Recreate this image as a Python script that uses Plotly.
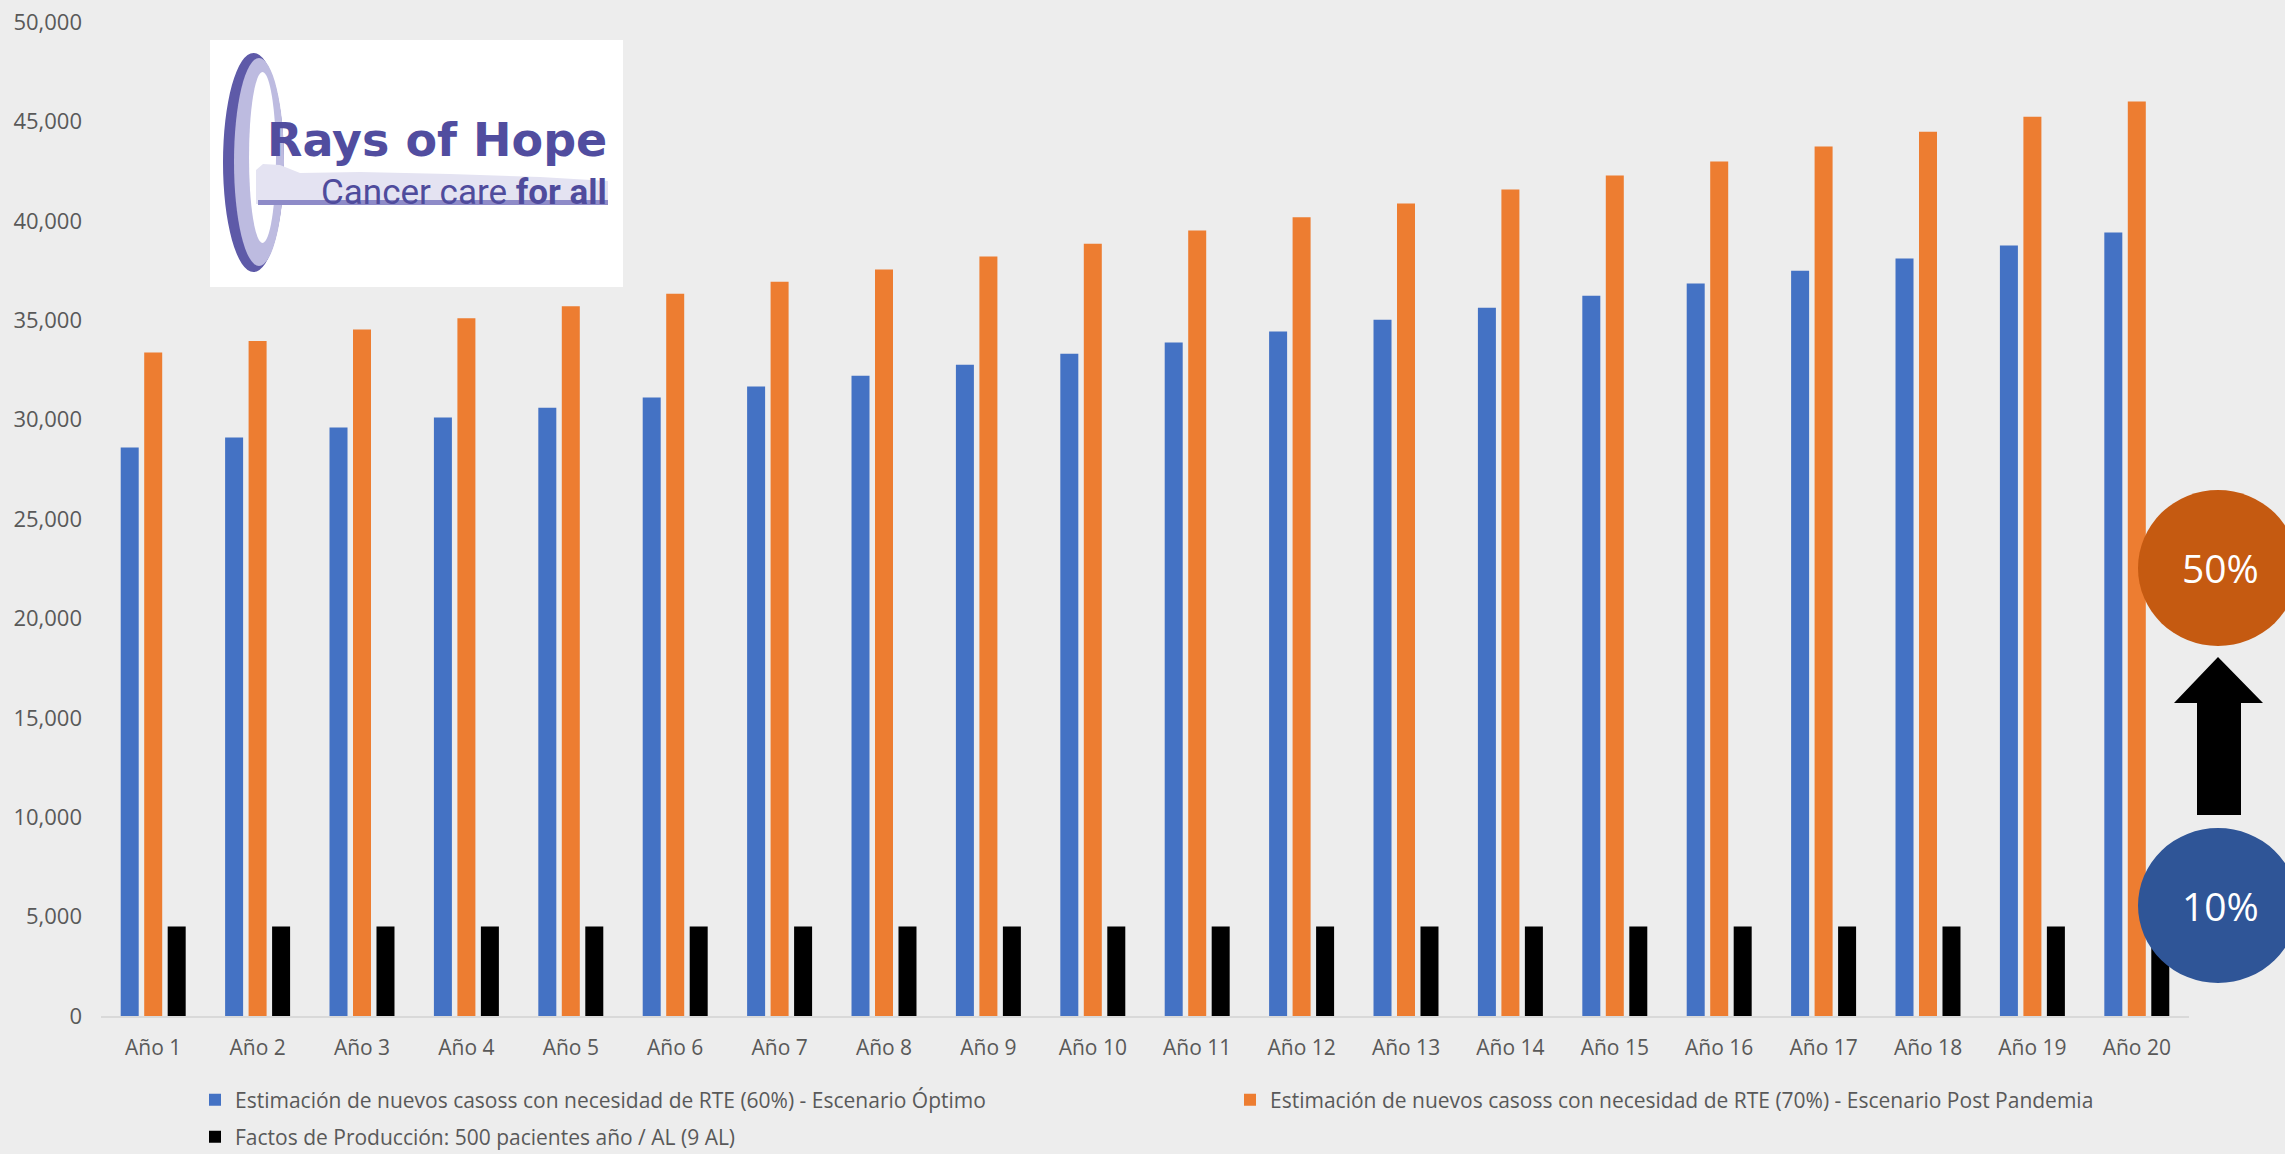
import plotly.graph_objects as go

# ---------------- data ----------------
years = [f"Año {i}" for i in range(1, 21)]
optimo = [28600, 29100, 29600, 30100, 30600, 31110, 31660, 32200, 32760, 33310,
          33880, 34430, 35020, 35620, 36230, 36850, 37490, 38100, 38760, 39410]
post_pandemia = [33380, 33960, 34530, 35100, 35700, 36330, 36930, 37550, 38200, 38840,
                 39510, 40180, 40870, 41580, 42280, 42980, 43740, 44480, 45230, 46000]
produccion = [4500] * 20

name_opt = "Estimación de nuevos casoss con necesidad de RTE (60%) - Escenario Óptimo"
name_post = "Estimación de nuevos casoss con necesidad de RTE (70%) - Escenario Post Pandemia"
name_prod = "Factos de Producción: 500 pacientes año / AL (9 AL)"
pct_low = "10%"
pct_high = "50%"

# ---------------- layout geometry (pixels) ----------------
W, H = 2285, 1154
L, R, T, B = 101, 96, 22, 138
PW = W - L - R
PH = H - T - B


def px(x):
    return (x - L) / PW


def py(y):
    return (H - B - y) / PH


def cx(x):
    return x / W


def cy(y):
    return (H - y) / H


FONT = "Open Sans"
GREY = "#595959"

fig = go.Figure()
fig.add_trace(go.Bar(x=years, y=optimo, name=name_opt, marker_color="#4472C4",
                     marker_line_width=0, legend="legend"))
fig.add_trace(go.Bar(x=years, y=post_pandemia, name=name_post, marker_color="#ED7D31",
                     marker_line_width=0, legend="legend2"))
fig.add_trace(go.Bar(x=years, y=produccion, name=name_prod, marker_color="#000000",
                     marker_line_width=0, legend="legend3"))

shapes = []
# logo box
shapes.append(dict(type="rect", xref="paper", yref="paper", x0=px(210), x1=px(623),
                   y0=py(287), y1=py(40), fillcolor="white", line_width=0, layer="above"))
# ring
shapes.append(dict(type="circle", xref="paper", yref="paper", x0=px(223), x1=px(284),
                   y0=py(272), y1=py(53), fillcolor="#5E5AA8", line_width=0, layer="above"))
shapes.append(dict(type="circle", xref="paper", yref="paper", x0=px(234), x1=px(284),
                   y0=py(266), y1=py(58), fillcolor="#BDBBE0", line_width=0, layer="above"))
shapes.append(dict(type="circle", xref="paper", yref="paper", x0=px(249), x1=px(276),
                   y0=py(243), y1=py(72), fillcolor="white", line_width=0, layer="above"))
# swoosh band
pts = [(256, 204), (256, 170), (263, 164), (280, 165), (300, 173), (360, 172),
       (450, 174), (540, 177), (608, 181), (608, 204)]
path = "M " + " L ".join(f"{px(a)},{py(b)}" for a, b in pts) + " Z"
shapes.append(dict(type="path", xref="paper", yref="paper", path=path,
                   fillcolor="#E4E3F2", line_width=0, layer="above"))
shapes.append(dict(type="rect", xref="paper", yref="paper", x0=px(258), x1=px(608),
                   y0=py(205), y1=py(200), fillcolor="#8E8BC8", line_width=0, layer="above"))

# circles + arrow
shapes.append(dict(type="circle", xref="paper", yref="paper", x0=px(2138), x1=px(2298),
                   y0=py(646), y1=py(490), fillcolor="#C55A11", line_width=0, layer="above"))
shapes.append(dict(type="circle", xref="paper", yref="paper", x0=px(2138), x1=px(2298),
                   y0=py(983), y1=py(828), fillcolor="#2F5597", line_width=0, layer="above"))
arrow = [(2218, 657), (2263, 703), (2241, 703), (2241, 815), (2197, 815), (2197, 703), (2174, 703)]
apath = "M " + " L ".join(f"{px(a)},{py(b)}" for a, b in arrow) + " Z"
shapes.append(dict(type="path", xref="paper", yref="paper", path=apath,
                   fillcolor="#000000", line_width=0, layer="above"))

annotations = [
    dict(xref="paper", yref="paper", x=px(609), y=py(140), xanchor="right", yanchor="middle",
         text="<b>Rays of Hope</b>", showarrow=False,
         font=dict(family="DejaVu Sans", size=46, color="#514D9F")),
    dict(xref="paper", yref="paper", x=px(609), y=py(193), xanchor="right", yanchor="middle",
         text="Cancer care <b>for all</b>", showarrow=False,
         font=dict(family="Roboto", size=35, color="#4F4B9C")),
    dict(xref="paper", yref="paper", x=px(2220), y=py(568), xanchor="center", yanchor="middle",
         text=pct_high, showarrow=False, font=dict(family=FONT, size=39, color="white")),
    dict(xref="paper", yref="paper", x=px(2220), y=py(905), xanchor="center", yanchor="middle",
         text=pct_low, showarrow=False, font=dict(family=FONT, size=39, color="white")),
]

legend_common = dict(orientation="h", bgcolor="rgba(0,0,0,0)", borderwidth=0,
                     font=dict(family=FONT, size=21, color=GREY),
                     xref="container", yref="container",
                     xanchor="left", yanchor="middle", itemclick=False,
                     visible=True)

fig.update_layout(
    width=W, height=H,
    margin=dict(l=L, r=R, t=T, b=B, pad=0, autoexpand=False),
    paper_bgcolor="#EDEDED",
    plot_bgcolor="rgba(0,0,0,0)",
    showlegend=True,
    barmode="group",
    bargap=0.325,
    bargroupgap=0.234,
    font=dict(family=FONT, size=21, color=GREY),
    xaxis=dict(showgrid=False, showline=True, linecolor="#D9D9D9", linewidth=2,
               ticks="", tickfont=dict(family=FONT, size=21, color=GREY),
               ticklabelstandoff=12, automargin=False, fixedrange=True),
    yaxis=dict(range=[0, 50000], dtick=5000, tickformat=",d", showgrid=False,
               zeroline=False, showline=False, ticks="",
               tickfont=dict(family=FONT, size=22, color=GREY),
               ticklabelstandoff=18, automargin=False, fixedrange=True),
    legend=dict(x=cx(195), y=cy(1100), **legend_common),
    legend2=dict(x=cx(1230), y=cy(1100), **legend_common),
    legend3=dict(x=cx(195), y=cy(1137), **legend_common),
    shapes=shapes,
    annotations=annotations,
)

fig.write_html(
    "out.html",
    config={"displayModeBar": False},
    post_script="document.body.style.margin='0';document.body.style.overflow='hidden';"
                "document.body.style.background='#EDEDED';",
)
